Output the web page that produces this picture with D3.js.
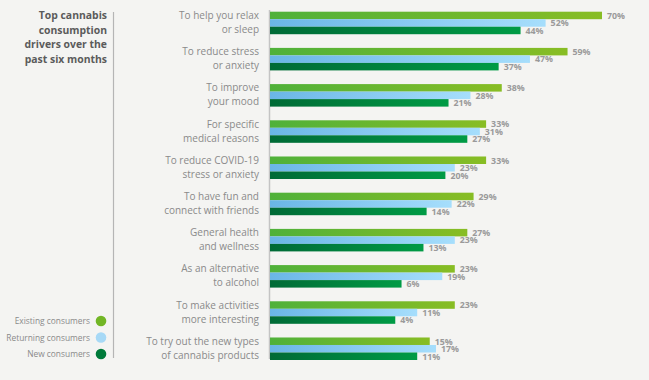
<!DOCTYPE html>
<html><head><meta charset="utf-8">
<script src="https://cdn.jsdelivr.net/npm/d3@7"></script>
<style>
html,body{margin:0;padding:0;background:#f4f4f2;}
svg{display:block;font-family:"Open Sans",sans-serif;}
</style></head>
<body><svg id="c" width="649" height="380"></svg>
<script>
const categories = [
  ["To help you relax","or sleep"],
  ["To reduce stress","or anxiety"],
  ["To improve","your mood"],
  ["For specific","medical reasons"],
  ["To reduce COVID-19","stress or anxiety"],
  ["To have fun and","connect with friends"],
  ["General health","and wellness"],
  ["As an alternative","to alcohol"],
  ["To make activities","more interesting"],
  ["To try out the new types","of cannabis products"]
];
const seriesNames = ["Existing consumers","Returning consumers","New consumers"];
const existing = [70,59,38,33,33,29,27,23,23,15];
const returning = [52,47,28,31,23,22,23,19,11,17];
const newer = [44,37,21,27,20,14,13,6,4,11];
const titleLines = ["Top cannabis","consumption","drivers over the","past six months"];

const series = [existing, returning, newer];
const svg = d3.select("#c");
const defs = svg.append("defs");
const grads = [["#4fb13a","#88bd24"],["#6ab6e6","#a6defc"],["#006a36","#009b45"]];
const legendCols = ["#72b626","#a7d9f6","#007a3a"];
grads.forEach((g,i)=>{
  const lg = defs.append("linearGradient").attr("id","g"+i).attr("x1","0").attr("x2","1").attr("y1","0").attr("y2","0");
  lg.append("stop").attr("offset","0").attr("stop-color",g[0]);
  lg.append("stop").attr("offset","1").attr("stop-color",g[1]);
});

const idx = d3.range(categories.length);
const x = d3.scaleLinear().domain([-36, 70]).range([270, 602]);
const y = d3.scaleBand().domain(idx).range([11.7, 360]).paddingInner(0.378).paddingOuter(0);
const ys = d3.scaleBand().domain([0,1,2]).range([0, y.bandwidth()]);

// axis lines
svg.append("line").attr("x1",269.5).attr("x2",269.5).attr("y1",10).attr("y2",359).attr("stroke","#c4c4c4").attr("stroke-width",1.5);
svg.append("line").attr("x1",113.5).attr("x2",113.5).attr("y1",12).attr("y2",358).attr("stroke","#b5b5b5").attr("stroke-width",1.2);

// title
const t = svg.append("text").attr("text-anchor","end").attr("fill","#5b5b5b").attr("font-weight","700").attr("font-size","10.4px");
titleLines.forEach((l,i)=>t.append("tspan").attr("x",107).attr("y",19+i*14.7).text(l));

// groups
const g = svg.selectAll("g.row").data(idx).join("g").attr("class","row").attr("transform",i=>`translate(0,${y(i)})`);
g.each(function(i){
  const row = d3.select(this);
  const lab = row.append("text").attr("text-anchor","end").attr("fill","#8a8a8a").attr("font-size","10px");
  const c = y.bandwidth()/2;
  categories[i].forEach((l,k)=>lab.append("tspan").attr("x",259).attr("y",c-4+k*14).text(l));
  series.forEach((s,j)=>{
    row.append("rect").attr("x",x.range()[0]).attr("y",ys(j)).attr("width",x(s[i])-x.range()[0]).attr("height",ys.bandwidth()).attr("fill",`url(#g${j})`);
    row.append("text").attr("x",x(s[i])+5).attr("y",ys(j)+ys.bandwidth()/2+3.3)
      .attr("fill","#9a9a9a").attr("font-weight","700").attr("font-size","8.8px").text(s[i]+"%");
  });
});

// legend
const lgd = svg.selectAll("g.lg").data(seriesNames).join("g").attr("class","lg")
  .attr("transform",(d,i)=>`translate(0,${321+i*16.5})`);
lgd.append("text").attr("x",90).attr("y",3).attr("text-anchor","end").attr("fill","#8a8a8a").attr("font-size","8.4px").text(d=>d);
lgd.append("circle").attr("cx",101).attr("cy",0).attr("r",5.3).attr("fill",(d,i)=>legendCols[i]);
</script></body></html>
